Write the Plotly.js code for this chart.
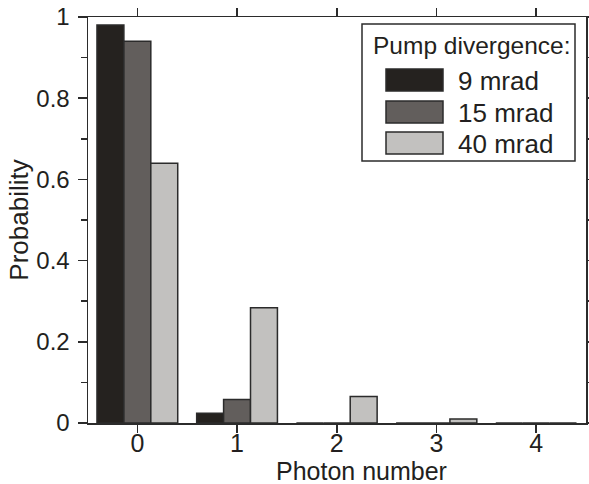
<!DOCTYPE html>
<html>
<head>
<meta charset="utf-8">
<script src="https://cdn.plot.ly/plotly-3.0.1.min.js"></script>
<style>html,body{margin:0;padding:0;background:#fff;}#chart{width:589px;height:484px;}</style>
</head>
<body>
<div id="chart"></div>
<script>
// ---- data ----
const photonNumbers = [0, 1, 2, 3, 4];
const seriesNames = ["9 mrad", "15 mrad", "40 mrad"];
const prob9mrad  = [0.98, 0.024, 0, 0, 0];
const prob15mrad = [0.94, 0.058, 0, 0, 0];
const prob40mrad = [0.64, 0.284, 0.065, 0.01, 0];
const yTickVals = [0, 0.2, 0.4, 0.6, 0.8, 1];
const yTickText = ["0", "0.2", "0.4", "0.6", "0.8", "1"];
const legendTitle = "Pump divergence:";

// ---- styles ----
const colors = ["#25221f", "#625e5c", "#c2c1bf"];
const edge = "#2b2b2b";
const txt = "#231f20";
const FONT = "Liberation Sans, Arial, Helvetica, sans-serif";
const W = 589, H = 484;
const M = {l: 88, r: 3, t: 17, b: 61};
const PW = W - M.l - M.r, PH = H - M.t - M.b;
const px = x => (x - M.l) / PW;
const py = y => (H - M.b - y) / PH;

const allSeries = [prob9mrad, prob15mrad, prob40mrad];
const traces = allSeries.map((vals, i) => ({
  type: "bar",
  x: photonNumbers,
  y: vals,
  name: seriesNames[i],
  marker: {color: colors[i], line: {color: edge, width: 1.5}},
  hoverinfo: "x+y+name"
}));

// manual legend (large swatches as in reference)
const shapes = [{
  type: "rect", xref: "paper", yref: "paper",
  x0: px(362), x1: px(575), y0: py(24), y1: py(161),
  line: {color: edge, width: 1.5}, fillcolor: "rgba(255,255,255,1)"
}];
const annotations = [{
  xref: "paper", yref: "paper", x: px(471), y: py(46),
  text: legendTitle, showarrow: false, xanchor: "center", yanchor: "middle",
  font: {family: FONT, size: 24.5, color: txt}
}];
const swY = [[69, 91], [101, 123], [132, 154]];
seriesNames.forEach((n, i) => {
  shapes.push({
    type: "rect", xref: "paper", yref: "paper",
    x0: px(386), x1: px(443), y0: py(swY[i][0]), y1: py(swY[i][1]),
    line: {color: edge, width: 1.5}, fillcolor: colors[i]
  });
  annotations.push({
    xref: "paper", yref: "paper", x: px(456), y: py((swY[i][0] + swY[i][1]) / 2 + 0.5),
    text: n, showarrow: false, xanchor: "left", yanchor: "middle",
    font: {family: FONT, size: 26, color: txt}
  });
});
// x axis title (offset to the right in the reference)
annotations.push({
  xref: "paper", yref: "paper", x: px(361), y: py(470.5),
  text: "Photon number", showarrow: false, xanchor: "center", yanchor: "middle",
  font: {family: FONT, size: 25, color: txt}
});

const layout = {
  width: W, height: H,
  margin: M,
  paper_bgcolor: "#fff", plot_bgcolor: "#fff",
  showlegend: false,
  barmode: "group",
  bargap: 0.19,
  bargroupgap: 0,
  font: {family: FONT, color: txt},
  xaxis: {
    range: [-0.495, 4.5],
    tickvals: photonNumbers,
    ticktext: photonNumbers.map(String),
    ticks: "outside", ticklen: 8, tickwidth: 1.5, tickcolor: edge,
    ticklabelstandoff: -11,
    showline: true, linecolor: edge, linewidth: 1.5, mirror: "ticks",
    showgrid: false, zeroline: false,
    tickfont: {family: FONT, size: 25, color: txt}
  },
  yaxis: {
    range: [0, 1],
    tickvals: yTickVals, ticktext: yTickText,
    ticks: "outside", ticklen: 9, tickwidth: 1.5, tickcolor: edge,
    ticklabelstandoff: 3,
    minor: {dtick: 0.1, tick0: 0, ticks: "outside", ticklen: 6, tickwidth: 1.5, tickcolor: edge, showgrid: false},
    showline: true, linecolor: edge, linewidth: 1.5, mirror: "ticks",
    showgrid: false, zeroline: false,
    tickfont: {family: FONT, size: 24, color: txt},
    title: {text: "Probability", standoff: 0, font: {family: FONT, size: 26, color: txt}}
  },
  shapes: shapes,
  annotations: annotations
};

Plotly.newPlot("chart", traces, layout, {staticPlot: true, displayModeBar: false});
</script>
</body>
</html>
